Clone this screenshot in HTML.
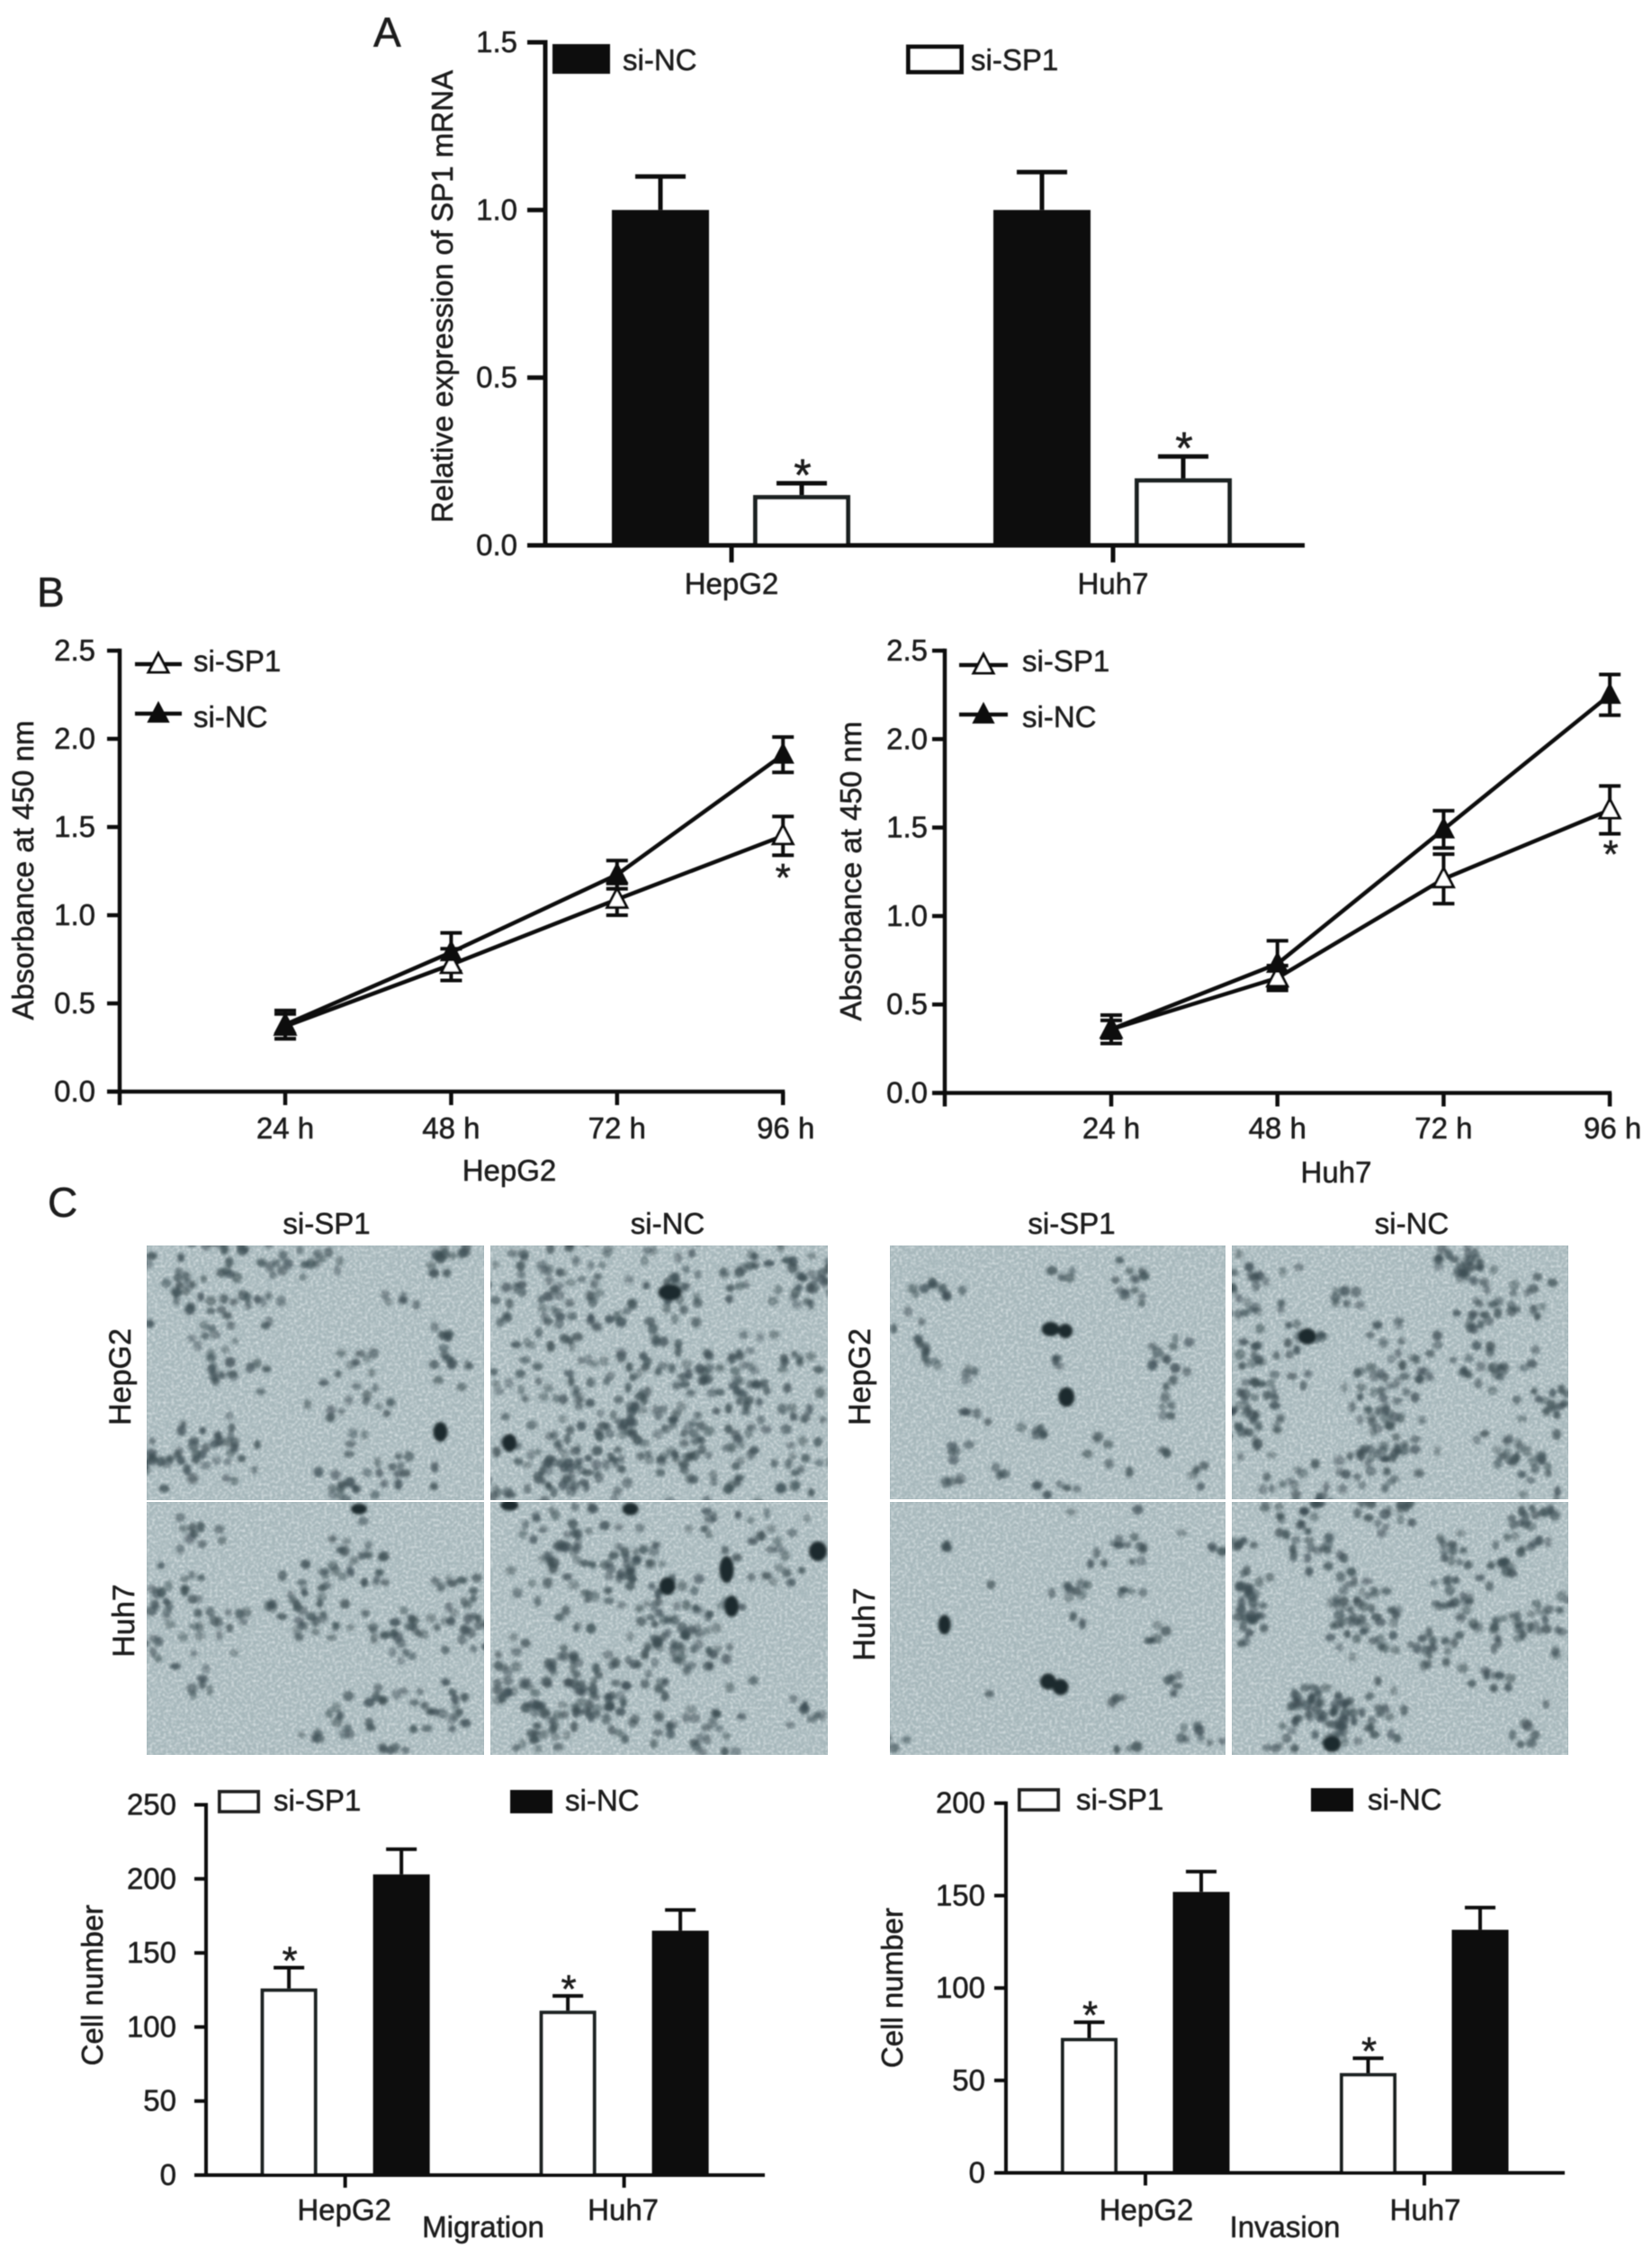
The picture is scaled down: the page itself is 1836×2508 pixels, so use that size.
<!DOCTYPE html>
<html lang="en">
<head>
<meta charset="utf-8">
<title>SP1 knockdown figure</title>
<style>
html,body{margin:0;padding:0;background:#fff;width:1836px;height:2508px;overflow:hidden}
svg{display:block;position:absolute;left:0;top:0}
text{font-family:"Liberation Sans",Arial,sans-serif;fill:#1a1a1a;stroke:#1a1a1a;stroke-width:0.5px;font-size:33px}
</style>
</head>
<body>
<svg id="fig" xmlns="http://www.w3.org/2000/svg" width="1836" height="2508" viewBox="0 0 1836 2508">
<defs>
<filter id="speck" x="0" y="0" width="100%" height="100%">
<feTurbulence type="fractalNoise" baseFrequency="0.33" numOctaves="2" seed="5"/>
<feColorMatrix type="matrix" values="0 0 0 0 0.9  0 0 0 0 0.94  0 0 0 0 0.95  1.5 0 0 0 -0.62"/>
<feGaussianBlur stdDeviation="0.7"/>
</filter>
<filter id="soft" x="-30%" y="-30%" width="160%" height="160%"><feGaussianBlur stdDeviation="1.6"/></filter>
<filter id="ink" x="-2%" y="-2%" width="104%" height="104%"><feGaussianBlur stdDeviation="0.55"/></filter>
</defs>

<rect x="0" y="0" width="1836" height="2508" fill="#fff"/>
<g id="micrographs"></g>

<g filter="url(#ink)">
<text x="415" y="52" style="font-size:46px">A</text>
<text x="41" y="674" style="font-size:46px">B</text>
<text x="53" y="1352" style="font-size:46px">C</text>

<g id="chartA"></g>
<text transform="translate(503,329.5) rotate(-90)" text-anchor="middle" textLength="503" lengthAdjust="spacingAndGlyphs" style="font-size:33px">Relative expression of SP1 mRNA</text>
<rect x="614" y="49" width="64" height="33" fill="#111"/>
<text x="692" y="78" style="font-size:33px">si-NC</text>
<rect x="1009.5" y="52" width="59" height="28" fill="#fff" stroke="#111" stroke-width="5"/>
<text x="1079" y="78" style="font-size:33px">si-SP1</text>

<g id="chartB1"></g>
<text transform="translate(37,967) rotate(-90)" text-anchor="middle" textLength="333" lengthAdjust="spacingAndGlyphs" style="font-size:33px">Absorbance at 450 nm</text>
<text x="566" y="1312" text-anchor="middle" style="font-size:33px">HepG2</text>
<text x="215" y="746" style="font-size:33px">si-SP1</text>
<text x="215" y="808" style="font-size:33px">si-NC</text>

<g id="chartB2"></g>
<text transform="translate(957,968) rotate(-90)" text-anchor="middle" textLength="333" lengthAdjust="spacingAndGlyphs" style="font-size:33px">Absorbance at 450 nm</text>
<text x="1485" y="1314" text-anchor="middle" style="font-size:33px">Huh7</text>
<text x="1136" y="746" style="font-size:33px">si-SP1</text>
<text x="1136" y="808" style="font-size:33px">si-NC</text>

<text x="363" y="1371" text-anchor="middle" style="font-size:33px">si-SP1</text>
<text x="742" y="1371" text-anchor="middle" style="font-size:33px">si-NC</text>
<text transform="translate(145,1530) rotate(-90)" text-anchor="middle" style="font-size:34px">HepG2</text>
<text transform="translate(149,1801) rotate(-90)" text-anchor="middle" style="font-size:34px">Huh7</text>
<text x="1191" y="1371" text-anchor="middle" style="font-size:33px">si-SP1</text>
<text x="1569" y="1371" text-anchor="middle" style="font-size:33px">si-NC</text>
<text transform="translate(967,1530) rotate(-90)" text-anchor="middle" style="font-size:34px">HepG2</text>
<text transform="translate(972,1805) rotate(-90)" text-anchor="middle" style="font-size:34px">Huh7</text>

<g id="chartC1"></g>
<text transform="translate(114,2206) rotate(-90)" text-anchor="middle" textLength="179" lengthAdjust="spacingAndGlyphs" style="font-size:33px">Cell number</text>
<text x="537" y="2486" text-anchor="middle" style="font-size:33px">Migration</text>
<rect x="244" y="1991" width="43" height="22" fill="#fff" stroke="#222" stroke-width="4"/>
<text x="304" y="2012" style="font-size:33px">si-SP1</text>
<rect x="567" y="1989" width="47" height="26" fill="#111"/>
<text x="628" y="2012" style="font-size:33px">si-NC</text>

<g id="chartC2"></g>
<text transform="translate(1003,2209) rotate(-90)" text-anchor="middle" textLength="178" lengthAdjust="spacingAndGlyphs" style="font-size:33px">Cell number</text>
<text x="1428" y="2486" text-anchor="middle" style="font-size:33px">Invasion</text>
<rect x="1133" y="1989" width="43" height="22" fill="#fff" stroke="#222" stroke-width="4"/>
<text x="1196" y="2011" style="font-size:33px">si-SP1</text>
<rect x="1457" y="1987" width="47" height="26" fill="#111"/>
<text x="1520" y="2011" style="font-size:33px">si-NC</text>
</g>
</svg>

<script>
// ---------- Chart A data ----------
const aCategories = ['HepG2', 'Huh7'];
const aTickLabels = ['0.0', '0.5', '1.0', '1.5'];
const aTickValues = [0, 0.5, 1.0, 1.5];
const aSiNC = [1.0, 1.0];
const aSiNCErr = [0.1, 0.113];
const aSiSP1 = [0.15, 0.2];
const aSiSP1Err = [0.035, 0.065];

// ---------- Chart B data ----------
const bTimes = ['24 h', '48 h', '72 h', '96 h'];
const bTickLabels = ['0.0', '0.5', '1.0', '1.5', '2.0', '2.5'];
const bTickValues = [0, 0.5, 1.0, 1.5, 2.0, 2.5];
const hepSiSP1 = [0.37, 0.72, 1.09, 1.45];
const hepSiSP1Err = [0.07, 0.09, 0.09, 0.11];
const hepSiNC = [0.38, 0.79, 1.23, 1.91];
const hepSiNCErr = [0.08, 0.11, 0.08, 0.1];
const huhSiSP1 = [0.36, 0.65, 1.21, 1.6];
const huhSiSP1Err = [0.05, 0.07, 0.14, 0.135];
const huhSiNC = [0.36, 0.73, 1.49, 2.25];
const huhSiNCErr = [0.08, 0.13, 0.105, 0.115];

// ---------- Chart C data ----------
const cCategories = ['HepG2', 'Huh7'];
const migTickLabels = ['0', '50', '100', '150', '200', '250'];
const migTickValues = [0, 50, 100, 150, 200, 250];
const migSiSP1 = [126, 111];
const migSiSP1Err = [14, 10];
const migSiNC = [203, 165];
const migSiNCErr = [17, 14];
const invTickLabels = ['0', '50', '100', '150', '200'];
const invTickValues = [0, 50, 100, 150, 200];
const invSiSP1 = [73, 54];
const invSiSP1Err = [8.5, 8];
const invSiNC = [152, 131.5];
const invSiNCErr = [11, 12];

const NS = 'http://www.w3.org/2000/svg';
const INK = '#111';

function addLine(parent, x1, y1, x2, y2, width, name) {
  const el = document.createElementNS(NS, 'line');
  
  
  el.setAttribute('x1', x1);
  el.setAttribute('y1', y1);
  el.setAttribute('x2', x2);
  el.setAttribute('y2', y2);
  el.setAttribute('stroke', INK);
  el.setAttribute('stroke-width', width);
  parent.appendChild(el);
  return el;
}
function addText(parent, x, y, str, anchor, size, name) {
  const el = document.createElementNS(NS, 'text');
  
  
  el.setAttribute('x', x);
  el.setAttribute('y', y);
  el.setAttribute('text-anchor', anchor);
  el.style.fontSize = size + 'px';
  el.textContent = str;
  parent.appendChild(el);
  return el;
}
function addTriangle(parent, cx, cy, filled, name) {
  const el = document.createElementNS(NS, 'polygon');
  
  
  const p = [[cx, cy - 12], [cx + 11, cy + 9], [cx - 11, cy + 9]];
  el.setAttribute('points', p.map(q => q.join(',')).join(' '));
  el.setAttribute('fill', filled ? INK : '#fff');
  el.setAttribute('stroke', INK);
  el.setAttribute('stroke-width', filled ? 2 : 3);
  el.setAttribute('stroke-linejoin', 'miter');
  parent.appendChild(el);
  return el;
}
function addBar(parent, cx, top, base, width, filled, sw, name) {
  const el = document.createElementNS(NS, 'rect');
  
  
  el.setAttribute('x', cx - width / 2 + sw / 2);
  el.setAttribute('y', top + sw / 2);
  el.setAttribute('width', width - sw);
  el.setAttribute('height', base - top - sw / 2);
  el.setAttribute('fill', filled ? INK : '#fff');
  el.setAttribute('stroke', filled ? INK : '#1c2224');
  el.setAttribute('stroke-width', sw);
  parent.appendChild(el);
  return el;
}
function drawYAxis(g, o, tickValues, tickLabels, yOf, prefix) {
  addLine(g, o.axisX, yOf(tickValues[tickValues.length - 1]) - o.sw / 2, o.axisX, yOf(0) + o.sw / 2, o.sw, prefix + '-y-axis');
  tickValues.forEach((v, i) => {
    addLine(g, o.tickLeft, yOf(v), o.axisX, yOf(v), o.sw, prefix + '-y-tick');
    addText(g, o.labelRight, yOf(v) + 11, tickLabels[i], 'end', o.font, prefix + '-y-tick-label');
  });
}

// Grouped bar chart with two series, each drawn through its own axis functions.
function drawBars(id, o) {
  const g = document.getElementById(id);
  const yOf = v => o.y0 - (v - 0) * (o.y0 - o.yMaxPx) / o.yMax;
  const xOf = i => o.x0 + i * o.xStep;
  drawYAxis(g, o, o.tickValues, o.tickLabels, yOf, o.prefix);
  o.series.forEach(s => {
    s.values.forEach((v, i) => {
      const cx = xOf(i) + s.offset;
      const top = yOf(v);
      const errY = yOf(v + s.errors[i]);
      addLine(g, cx, top, cx, errY, o.errWidth, o.prefix + '-error-bar');
      addLine(g, cx - o.capHalf, errY, cx + o.capHalf, errY, o.errWidth, o.prefix + '-error-cap');
      addBar(g, cx, top, o.y0, o.barWidth, s.filled, o.barStroke, o.prefix + '-bar-' + s.name + '-' + o.categories[i].toLowerCase());
      if (s.star) {
        addText(g, cx + 1, errY - o.starGap, '*', 'middle', o.starSize, o.prefix + '-significance-star');
      }
    });
  });
  addLine(g, o.tickLeft, o.y0, o.axisEnd, o.y0, o.sw, o.prefix + '-x-axis');
  o.categories.forEach((c, i) => {
    addLine(g, xOf(i), o.y0, xOf(i), o.y0 + o.tickLen, o.sw, o.prefix + '-x-tick');
    addText(g, xOf(i) + o.labelDx, o.labelY, c, 'middle', o.font, o.prefix + '-x-tick-label');
  });
}

// Line chart with triangle markers and symmetric error bars.
function drawLines(id, o) {
  const g = document.getElementById(id);
  const yOf = v => o.y0 - v * (o.y0 - o.yMaxPx) / 2.5;
  const xOf = i => o.x0 + i * o.xStep;
  drawYAxis(g, o, o.tickValues, o.tickLabels, yOf, o.prefix);
  addLine(g, o.tickLeft, o.y0, xOf(o.times.length - 1) + 2, o.y0, o.sw, o.prefix + '-x-axis');
  addLine(g, o.axisX, o.y0, o.axisX, o.y0 + o.tickLen, o.sw, o.prefix + '-x-origin-tick');
  o.times.forEach((t, i) => {
    addLine(g, xOf(i), o.y0, xOf(i), o.y0 + o.tickLen, o.sw, o.prefix + '-x-tick');
    addText(g, xOf(i) + (i === 3 ? 3 : 0), 1265, t, 'middle', 33, o.prefix + '-x-tick-label');
  });
  o.series.forEach(s => {
    const line = document.createElementNS(NS, 'polyline');
    
    
    line.setAttribute('points', s.values.map((v, i) => xOf(i) + ',' + yOf(v)).join(' '));
    line.setAttribute('fill', 'none');
    line.setAttribute('stroke', INK);
    line.setAttribute('stroke-width', 4.5);
    g.appendChild(line);
    s.values.forEach((v, i) => {
      const x = xOf(i);
      const hi = yOf(v + s.errors[i]);
      const lo = yOf(v - s.errors[i]);
      addLine(g, x, hi, x, lo, 4, o.prefix + '-error-bar-' + s.name);
      addLine(g, x - 12, hi, x + 12, hi, 4, o.prefix + '-error-cap-' + s.name);
      addLine(g, x - 12, lo, x + 12, lo, 4, o.prefix + '-error-cap-' + s.name);
    });
  });
  o.series.forEach(s => {
    s.values.forEach((v, i) => {
      addTriangle(g, xOf(i), yOf(v), s.filled, o.prefix + '-marker-' + s.name);
    });
  });
  // legend line samples
  o.legend.forEach(l => {
    addLine(g, l.x1, l.y, l.x2, l.y, 4.5, o.prefix + '-legend-line-' + l.name);
    addTriangle(g, (l.x1 + l.x2) / 2, l.y, l.filled, o.prefix + '-legend-marker-' + l.name);
  });
  addText(g, xOf(3) + o.starDx, o.starY, '*', 'middle', 44, o.prefix + '-significance-star');
}

drawBars('chartA', {
  prefix: 'chart-a', categories: aCategories, tickValues: aTickValues, tickLabels: aTickLabels,
  yMax: 1.5, y0: 606, yMaxPx: 47, x0: 813, xStep: 424, axisX: 606, tickLeft: 586, labelRight: 575,
  axisEnd: 1450, sw: 5, tickLen: 19, font: 33, labelDx: 0, labelY: 660,
  barWidth: 108, barStroke: 5, errWidth: 5, capHalf: 28, starGap: -8, starSize: 50,
  series: [
    { name: 'si-nc', values: aSiNC, errors: aSiNCErr, offset: -79, filled: true, star: false },
    { name: 'si-sp1', values: aSiSP1, errors: aSiSP1Err, offset: 78, filled: false, star: true }
  ]
});

drawLines('chartB1', {
  prefix: 'chart-b-hepg2', times: bTimes, tickValues: bTickValues, tickLabels: bTickLabels,
  y0: 1213, yMaxPx: 723, x0: 317, xStep: 184.4, axisX: 133, tickLeft: 119, labelRight: 106,
  sw: 4.5, tickLen: 15, font: 33, starDx: 0, starY: 990,
  series: [
    { name: 'si-sp1', values: hepSiSP1, errors: hepSiSP1Err, filled: false },
    { name: 'si-nc', values: hepSiNC, errors: hepSiNCErr, filled: true }
  ],
  legend: [
    { name: 'si-sp1', x1: 150, x2: 202, y: 738, filled: false },
    { name: 'si-nc', x1: 150, x2: 202, y: 793, filled: true }
  ]
});

drawLines('chartB2', {
  prefix: 'chart-b-huh7', times: bTimes, tickValues: bTickValues, tickLabels: bTickLabels,
  y0: 1214.5, yMaxPx: 723, x0: 1235, xStep: 184.7, axisX: 1050, tickLeft: 1036, labelRight: 1031,
  sw: 4.5, tickLen: 15, font: 33, starDx: 1, starY: 964,
  series: [
    { name: 'si-sp1', values: huhSiSP1, errors: huhSiSP1Err, filled: false },
    { name: 'si-nc', values: huhSiNC, errors: huhSiNCErr, filled: true }
  ],
  legend: [
    { name: 'si-sp1', x1: 1066, x2: 1120, y: 739, filled: false },
    { name: 'si-nc', x1: 1066, x2: 1120, y: 794, filled: true }
  ]
});

drawBars('chartC1', {
  prefix: 'chart-c-migration', categories: cCategories, tickValues: migTickValues, tickLabels: migTickLabels,
  yMax: 250, y0: 2417, yMaxPx: 2005.5, x0: 383.6, xStep: 310, axisX: 229, tickLeft: 216, labelRight: 196,
  axisEnd: 850, sw: 4, tickLen: 14, font: 33, labelDx: -1, labelY: 2467,
  barWidth: 63, barStroke: 4, errWidth: 4, capHalf: 17, starGap: -7, starSize: 44,
  series: [
    { name: 'si-sp1', values: migSiSP1, errors: migSiSP1Err, offset: -62.5, filled: false, star: true },
    { name: 'si-nc', values: migSiNC, errors: migSiNCErr, offset: 62.5, filled: true, star: false }
  ]
});

drawBars('chartC2', {
  prefix: 'chart-c-invasion', categories: cCategories, tickValues: invTickValues, tickLabels: invTickLabels,
  yMax: 200, y0: 2414.5, yMaxPx: 2003.7, x0: 1273, xStep: 310, axisX: 1118, tickLeft: 1105, labelRight: 1095,
  axisEnd: 1739, sw: 4, tickLen: 14, font: 33, labelDx: 1, labelY: 2467,
  barWidth: 63, barStroke: 4, errWidth: 4, capHalf: 17, starGap: -7, starSize: 44,
  series: [
    { name: 'si-sp1', values: invSiSP1, errors: invSiSP1Err, offset: -62.5, filled: false, star: true },
    { name: 'si-nc', values: invSiNC, errors: invSiNCErr, offset: 62, filled: true, star: false }
  ]
});

// ---------- Micrograph texture (photographs, approximated) ----------
// cluster: centre x, centre y, spread x, spread y, cell count — in crop coordinates.
const panels = [
  { name: 'migration-hepg2-si-sp1', x: 163, y: 1384, w: 375, h: 283, ox: 100, clusters: [
    [240,240,130,110,52],[440,170,60,40,12],[720,170,40,40,10],[240,430,40,60,8],[320,490,50,40,8],[520,570,70,50,10],
    [250,680,80,70,25],[150,750,40,60,10],[560,720,60,50,8],[640,760,50,40,8],[720,470,50,50,8],[500,780,50,40,8],[730,380,20,30,4],[620,290,30,20,4],[540,440,40,40,6]
  ], blobs: [[710,640,8,11]] },
  { name: 'migration-hepg2-si-nc', x: 545, y: 1384, w: 375, h: 283, ox: 100, clusters: [
    [1050,500,220,300,170],[920,250,100,100,32],[1300,200,180,60,30],[1200,700,280,100,62],[1400,600,90,150,26],[1330,480,100,50,15],[930,750,100,70,26],[1460,240,30,60,12]
  ], blobs: [[1175,260,13,9],[850,670,8,10]] },
  { name: 'migration-huh7-si-sp1', x: 163, y: 1669, w: 375, h: 281, ox: 100, clusters: [
    [520,1000,70,80,22],[440,1110,60,70,25],[620,1190,60,60,18],[750,1110,45,60,15],[750,1200,40,50,10],[200,920,50,40,8],[160,1070,50,50,14],[230,1170,70,60,15],[130,1220,40,50,8],[230,1340,30,40,5],[520,1400,50,50,8],[730,1400,60,50,14],[600,1500,30,20,5],[470,1450,40,30,5],[600,1360,30,20,4]
  ], blobs: [[545,850,9,6]] },
  { name: 'migration-huh7-si-nc', x: 545, y: 1669, w: 375, h: 281, ox: 100, clusters: [
    [1000,1000,110,110,52],[1100,1050,60,100,20],[1200,1150,70,90,35],[1000,1270,160,90,52],[1100,1400,170,80,36],[930,1400,60,60,15],[1380,1050,50,60,10],[1350,900,100,50,15],[1250,1240,60,30,8],[1250,1450,40,50,10],[850,1310,40,60,12],[900,1480,50,30,8],[1450,1400,30,60,6]
  ], blobs: [[1290,1015,8,15],[1475,965,10,11],[1170,1060,9,10],[1300,1115,8,12],[1095,850,9,7],[850,840,10,6]] },
  { name: 'invasion-hepg2-si-sp1', x: 989, y: 1384, w: 373, h: 282, ox: 940, clusters: [
    [150,250,30,20,4],[210,255,30,20,4],[570,230,30,60,10],[155,430,30,70,8],[660,490,30,80,14],[360,640,40,25,5],[225,690,25,25,4],[510,680,25,40,4],[315,745,20,20,3],[205,785,20,12,3],[440,790,40,15,5],[720,770,20,30,3],[420,210,30,30,3],[260,590,20,20,3],[570,750,5,15,1],[645,700,15,12,2],[270,480,30,30,3],[430,450,10,20,2],[100,360,10,10,1],[130,315,15,15,1]
  ], blobs: [[415,360,10,8],[445,365,8,8],[447,545,9,11]] },
  { name: 'invasion-hepg2-si-nc', x: 1369, y: 1384, w: 374, h: 282, ox: 940, clusters: [
    [1250,180,50,40,20],[1360,280,70,50,15],[840,260,60,80,20],[920,370,40,30,6],[1140,420,50,60,15],[850,480,70,80,25],[830,620,50,60,18],[1080,520,70,60,18],[1300,480,70,50,18],[1090,710,80,60,25],[950,770,70,50,18],[1330,680,50,50,10],[1400,740,50,60,12],[1420,580,40,60,10],[1270,330,30,30,8],[1000,270,30,30,6],[1100,600,60,30,10]
  ], blobs: [[935,380,10,9]] },
  { name: 'invasion-huh7-si-sp1', x: 989, y: 1669, w: 373, h: 281, ox: 940, clusters: [
    [550,970,70,40,10],[450,1070,50,50,8],[660,1320,25,25,5],[710,1475,40,25,6],[630,1200,25,25,4],[570,1080,25,15,3],[745,950,15,15,2],[490,1155,10,10,1],[540,1385,15,15,2],[100,1480,20,20,2],[300,1060,10,10,1],[570,1500,20,10,2],[680,920,10,10,1],[465,870,10,10,1],[590,850,5,5,1],[290,1350,5,5,1],[205,950,8,15,2]
  ], blobs: [[200,1165,7,11],[410,1320,9,9],[435,1335,9,9]] },
  { name: 'invasion-huh7-si-nc', x: 1369, y: 1669, w: 374, h: 281, ox: 940, clusters: [
    [910,880,50,50,18],[1090,870,50,40,12],[1380,860,60,30,12],[820,1120,40,80,25],[980,990,50,50,14],[800,940,20,20,4],[1060,1180,50,80,22],[1000,1100,40,60,10],[1230,1080,40,40,12],[1190,1220,50,40,12],[1310,1160,50,50,12],[1410,1170,50,70,20],[1290,1000,50,40,10],[1300,1300,40,40,8],[1020,1400,90,60,45],[920,1400,40,50,12],[1000,1480,40,20,6],[880,1490,30,20,4],[1070,1070,20,25,3],[1370,950,40,40,8],[1220,950,30,30,5],[1370,1460,30,30,5],[1430,1370,15,10,1]
  ], blobs: [[985,1490,10,9]] }
];

let lcg = 12345;
function nextUnit() {
  lcg = (lcg * 1103515245 + 12345) % 2147483648;
  return lcg / 2147483648;
}
const mg = document.getElementById('micrographs');
panels.forEach((p, pi) => {
  const clip = document.createElementNS(NS, 'clipPath');
  clip.setAttribute('id', 'clip' + pi);
  const cr = document.createElementNS(NS, 'rect');
  cr.setAttribute('x', p.x);
  cr.setAttribute('y', p.y);
  cr.setAttribute('width', p.w);
  cr.setAttribute('height', p.h);
  clip.appendChild(cr);
  mg.appendChild(clip);

  const g = document.createElementNS(NS, 'g');
  
  
  g.setAttribute('clip-path', 'url(#clip' + pi + ')');
  mg.appendChild(g);

  const base = document.createElementNS(NS, 'rect');
  
  
  base.setAttribute('x', p.x);
  base.setAttribute('y', p.y);
  base.setAttribute('width', p.w);
  base.setAttribute('height', p.h);
  base.setAttribute('fill', '#a6b7bb');
  g.appendChild(base);

  const speck = document.createElementNS(NS, 'rect');
  
  
  speck.setAttribute('x', p.x);
  speck.setAttribute('y', p.y);
  speck.setAttribute('width', p.w);
  speck.setAttribute('height', p.h);
  speck.setAttribute('filter', 'url(#speck)');
  g.appendChild(speck);

  const cells = document.createElementNS(NS, 'g');
  
  
  cells.setAttribute('filter', 'url(#soft)');
  g.appendChild(cells);

  p.clusters.forEach(c => {
    const count = Math.round(c[4] * 1.25);
    for (let k = 0; k < count; k++) {
      const dx = (nextUnit() + nextUnit() - 1) * 1.6 * c[2];
      const dy = (nextUnit() + nextUnit() - 1) * 1.6 * c[3];
      const el = document.createElementNS(NS, 'ellipse');
      
      
      el.setAttribute('cx', p.ox + (c[0] + dx) * 0.5485);
      el.setAttribute('cy', 1330 + (c[1] + dy) * 0.408);
      el.setAttribute('rx', 3.8 + nextUnit() * 2.4);
      el.setAttribute('ry', 3.8 + nextUnit() * 2.4);
      el.setAttribute('fill', '#3c4d53');
      el.setAttribute('fill-opacity', 0.4 + nextUnit() * 0.42);
      cells.appendChild(el);
    }
  });
  p.blobs.forEach(b => {
    const el = document.createElementNS(NS, 'ellipse');
    
    
    el.setAttribute('cx', p.ox + b[0] * 0.5485);
    el.setAttribute('cy', 1330 + b[1] * 0.408);
    el.setAttribute('rx', b[2]);
    el.setAttribute('ry', b[3]);
    el.setAttribute('fill', '#1f2a2d');
    cells.appendChild(el);
  });
});
</script>
</body>
</html>
